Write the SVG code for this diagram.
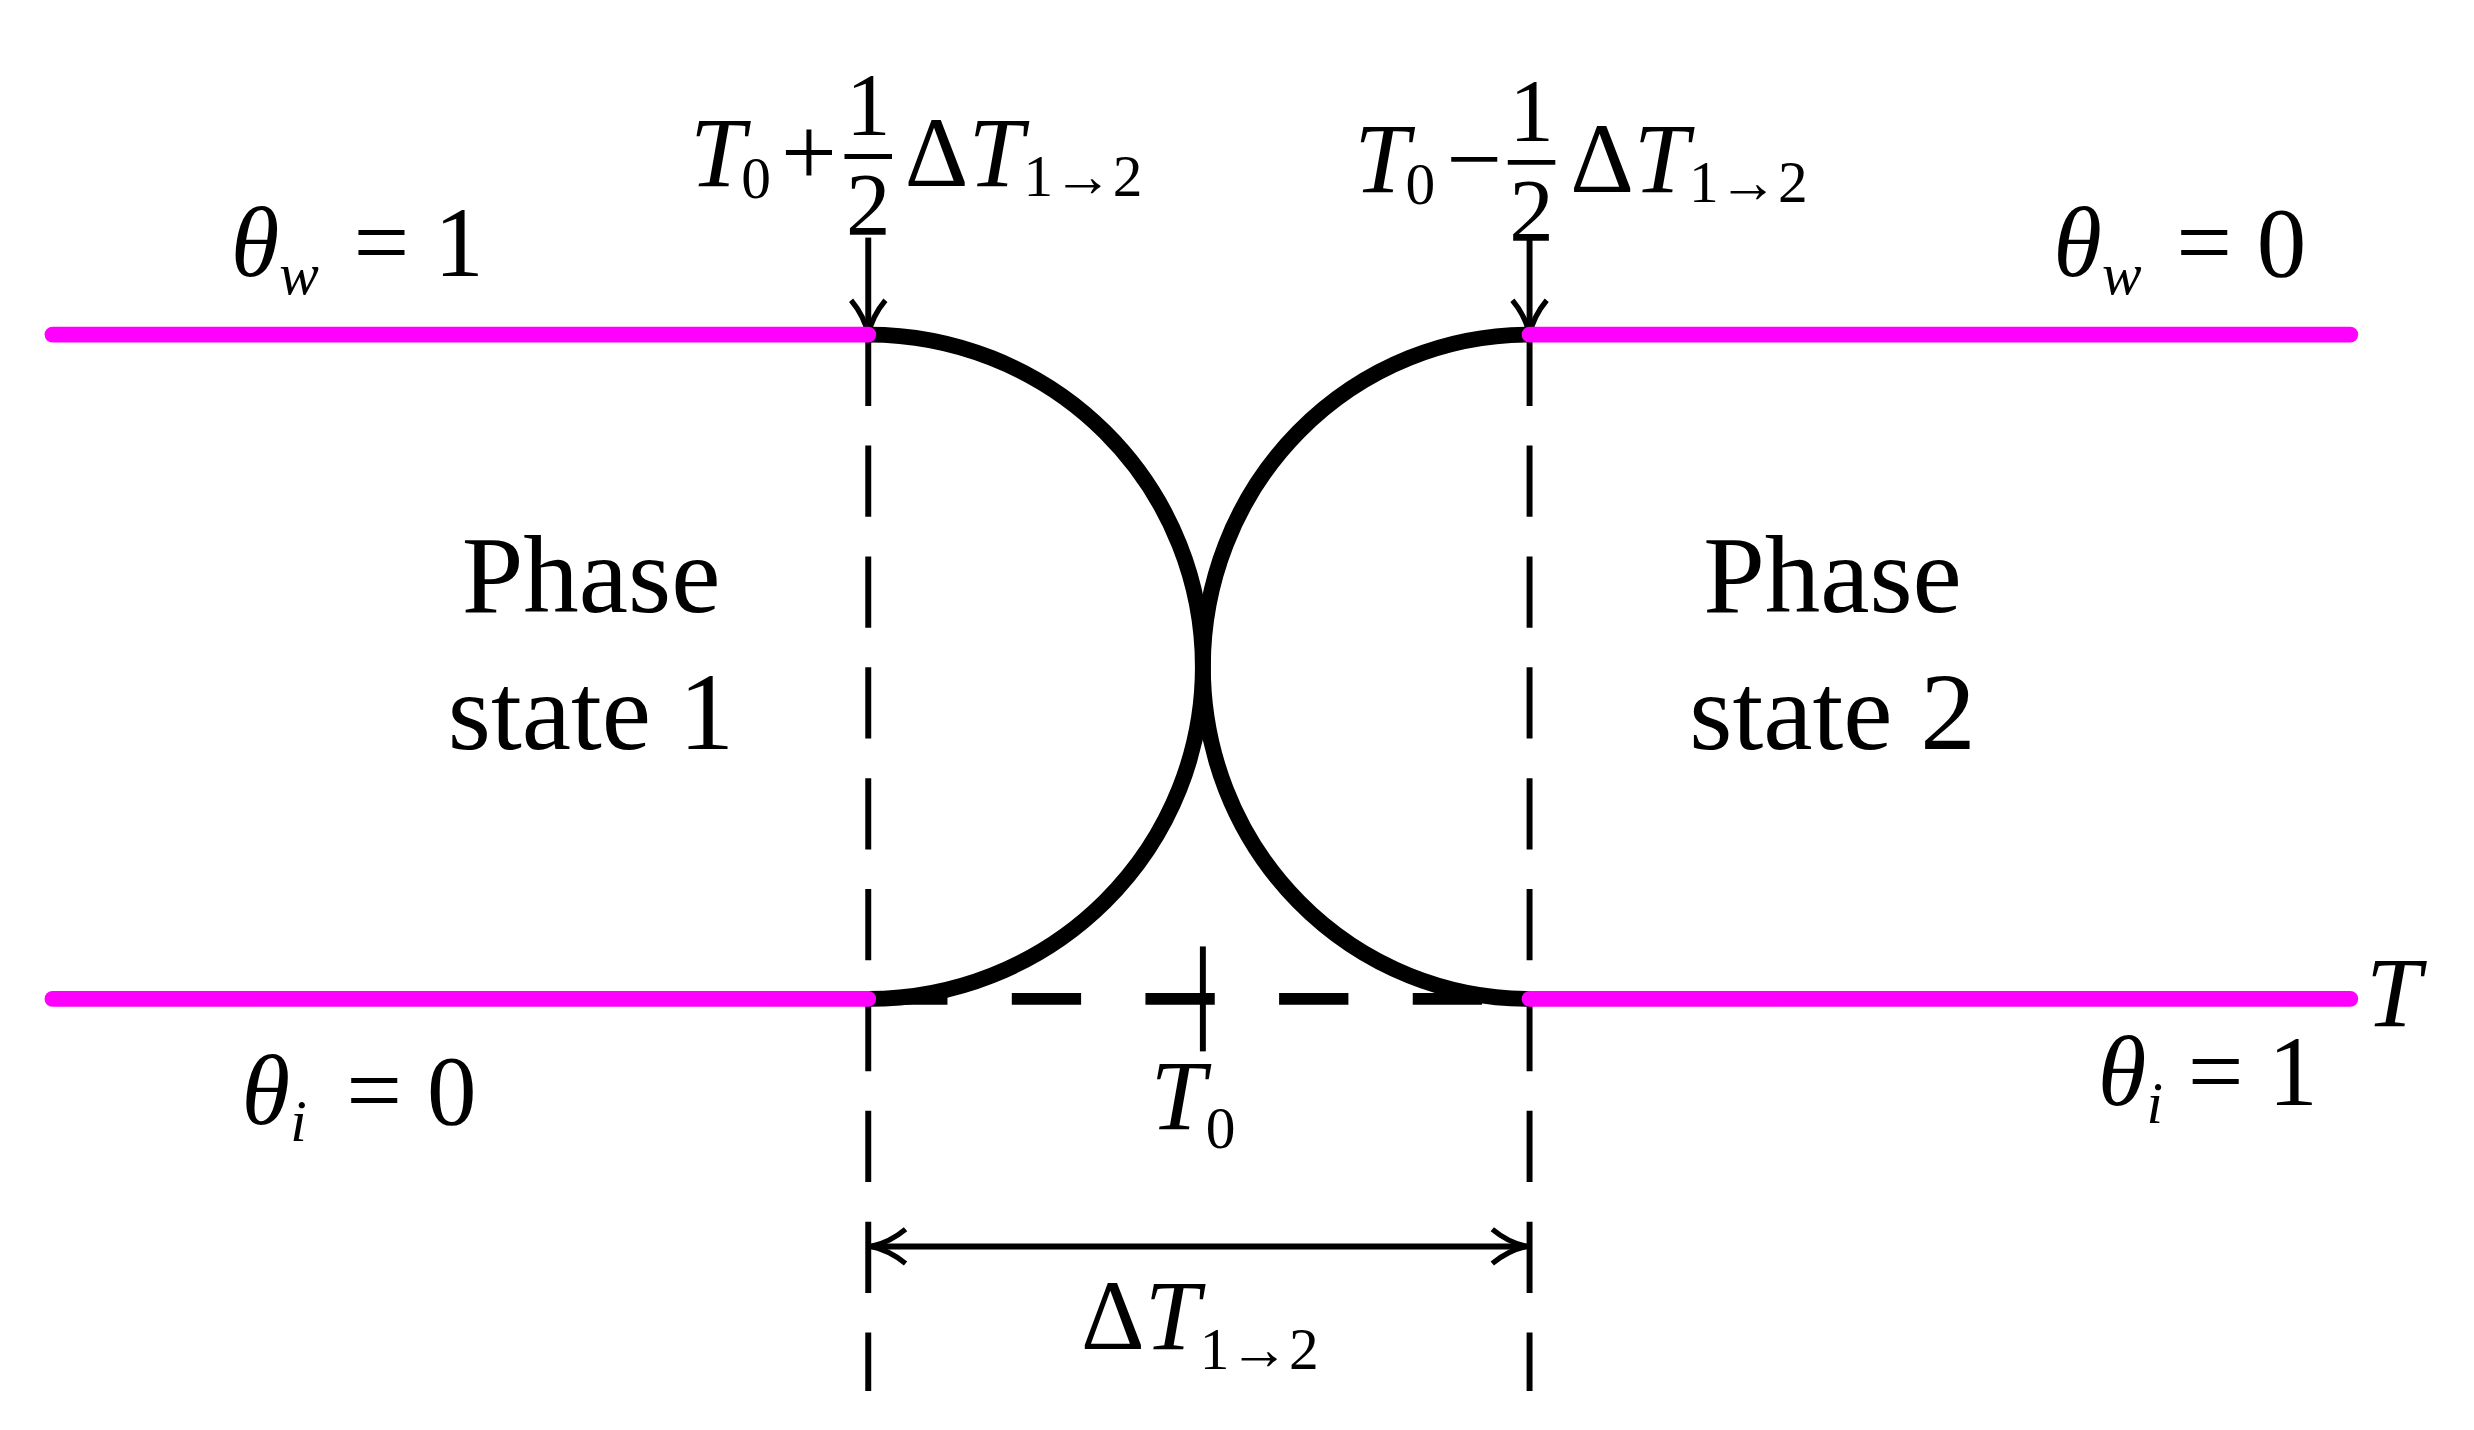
<svg xmlns="http://www.w3.org/2000/svg" width="2474" height="1430" viewBox="0 0 2474 1430">
<style>
text{font-family:"Liberation Serif","Times New Roman",serif;fill:#000}
.it{font-style:italic}
.m{fill:none;stroke:#ff00ff;stroke-width:16;stroke-linecap:round}
.arc{fill:none;stroke:#000;stroke-width:16}
.dv{fill:none;stroke:#000;stroke-width:6;stroke-dasharray:72 40}
.s{fill:none;stroke:#000;stroke-width:6}
</style>
<defs>
<marker id="ah" viewBox="0 0 30 30" refX="28" refY="15" markerWidth="40" markerHeight="40" markerUnits="userSpaceOnUse" orient="auto-start-reverse">
<path d="M2,2 Q14,12 28,15 Q14,18 2,28" fill="none" stroke="#000" stroke-width="4"/>
</marker>
</defs>
<g transform="translate(2,0) scale(0.99)">
<g id="connectors">
<line class="s" x1="875" y1="240" x2="875" y2="338" marker-end="url(#ah)"/>
<line class="s" x1="1543" y1="240" x2="1543" y2="338" marker-end="url(#ah)"/>
<line class="dv" x1="875" y1="338" x2="875" y2="1405"/>
<line class="dv" x1="1543" y1="338" x2="1543" y2="1405"/>
<line x1="875" y1="1009" x2="1543" y2="1009" stroke="#000" stroke-width="12" stroke-dasharray="70 65" stroke-dashoffset="-10"/>
<line class="s" x1="1213" y1="956" x2="1213" y2="1062" stroke-width="7"/>
<line class="s" x1="878" y1="1259" x2="1540" y2="1259" stroke-width="8" marker-start="url(#ah)" marker-end="url(#ah)"/>
<path class="arc" d="M875,338 A338,335.5 0 0 1 1213,673.5 A338,335.5 0 0 1 875,1009"/>
<path class="arc" d="M1543,338 A330,335.5 0 0 0 1213,673.5 A330,335.5 0 0 0 1543,1009"/>
<line class="m" x1="51" y1="338" x2="875" y2="338"/>
<line class="m" x1="1543" y1="338" x2="2372" y2="338"/>
<line class="m" x1="51" y1="1009" x2="875" y2="1009"/>
<line class="m" x1="1543" y1="1009" x2="2372" y2="1009"/>
</g>
<g id="labels" font-size="100">
<text x="231" y="279" class="it" font-size="100">θ<tspan class="it" font-size="60" dy="18">w</tspan><tspan font-style="normal" dy="-18" dx="35">= 1</tspan></text>
<text x="2072" y="279" class="it" font-size="100">θ<tspan font-size="60" dy="18">w</tspan><tspan font-style="normal" dy="-18" dx="35">= 0</tspan></text>
<text x="242" y="1135" class="it" font-size="100">θ<tspan font-size="60" dy="18">i</tspan><tspan font-style="normal" dy="-18" dx="40">= 0</tspan></text>
<text x="2117" y="1116" class="it" font-size="100">θ<tspan font-size="60" dy="18">i</tspan><tspan font-style="normal" dy="-18" dx="25">= 1</tspan></text>
<text x="2388" y="1036" class="it" font-size="100">T</text>
<text x="595" y="618" font-size="112" text-anchor="middle">Phase</text>
<text x="595" y="757" font-size="112" text-anchor="middle">state 1</text>
<text x="1849" y="618" font-size="112" text-anchor="middle">Phase</text>
<text x="1849" y="757" font-size="112" text-anchor="middle">state 2</text>
<text x="1203" y="1140" class="it" font-size="100" text-anchor="middle">T<tspan font-style="normal" font-size="60" dy="20">0</tspan></text>
<text x="1090" y="1363" font-size="100">Δ<tspan class="it">T</tspan><tspan font-size="60" dy="20">1→2</tspan></text>
<text x="695" y="188" class="it">T<tspan font-style="normal" font-size="60" dy="12" dx="-4">0</tspan></text>
<text x="815" y="188" text-anchor="middle">+</text>
<text x="875" y="135" text-anchor="middle" font-size="90">1</text>
<line x1="851" y1="158" x2="899" y2="158" stroke="#000" stroke-width="5"/>
<text x="875" y="236" text-anchor="middle" font-size="90">2</text>
<text x="912" y="188">Δ<tspan class="it">T</tspan><tspan font-size="60" dy="10">1→2</tspan></text>
<text x="1366" y="194" class="it">T<tspan font-style="normal" font-size="60" dy="12" dx="-4">0</tspan></text>
<text x="1487" y="194" text-anchor="middle">−</text>
<text x="1545" y="141" text-anchor="middle" font-size="90">1</text>
<line x1="1521" y1="164" x2="1569" y2="164" stroke="#000" stroke-width="5"/>
<text x="1545" y="242" text-anchor="middle" font-size="90">2</text>
<text x="1584" y="194">Δ<tspan class="it">T</tspan><tspan font-size="60" dy="10">1→2</tspan></text>
</g>
</g>
</svg>
